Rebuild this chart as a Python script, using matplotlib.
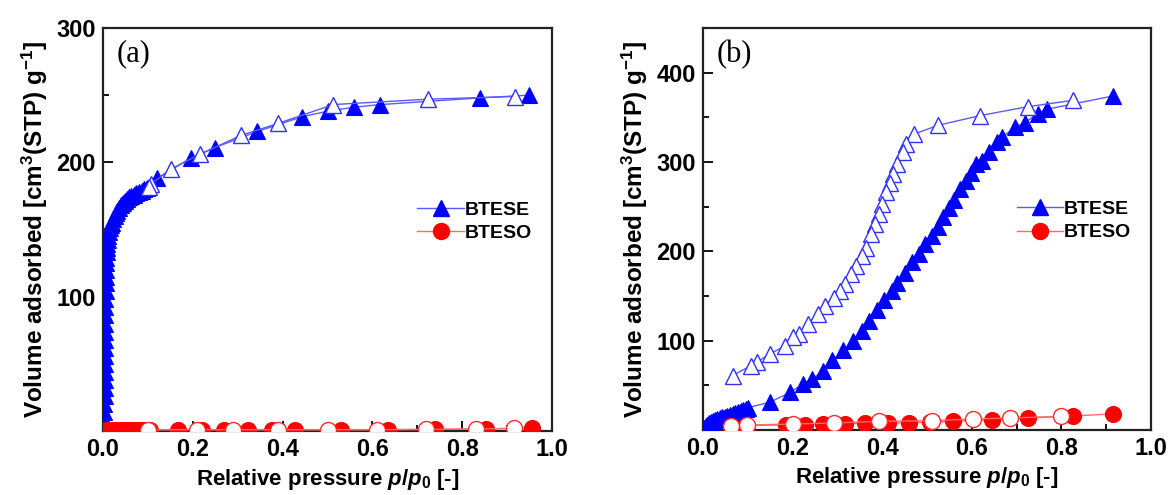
import matplotlib
matplotlib.use("Agg")
import matplotlib.pyplot as plt
from matplotlib.lines import Line2D
from matplotlib.ticker import MultipleLocator


# ============================================================
# DATA  (relative pressure p/p0, volume adsorbed cm3(STP)/g)
# ============================================================

# (a) BTESE - adsorption branch
a_btese_ads_x = [0.003, 0.003, 0.003, 0.003, 0.004, 0.004, 0.004, 0.004,
                 0.004, 0.004, 0.005, 0.005, 0.005, 0.005, 0.005, 0.005,
                 0.005, 0.006, 0.006, 0.006, 0.006, 0.007, 0.007, 0.008,
                 0.009, 0.010, 0.011, 0.012, 0.014, 0.016, 0.018, 0.020,
                 0.023, 0.026, 0.029, 0.032, 0.036, 0.040, 0.044, 0.048,
                 0.053, 0.058, 0.063, 0.068, 0.074, 0.080, 0.086, 0.092,
                 0.098, 0.12, 0.195, 0.249, 0.344, 0.444, 0.50, 0.558,
                 0.618, 0.84, 0.949]
a_btese_ads_y = [2, 8, 14, 20, 26, 32, 38, 44, 50, 56, 62, 68, 74, 80, 86,
                 92, 98, 104, 110, 115, 120, 125, 129, 133, 136, 139, 142,
                 145, 148, 151, 153, 155, 157.5, 160, 162, 164, 166, 168,
                 169.5, 171, 172.5, 174, 175, 176, 177, 178, 179, 180, 181,
                 188, 203, 211, 223, 234, 238, 241, 243, 248, 250]

# (a) BTESE - desorption branch
a_btese_des_x = [0.917, 0.724, 0.513, 0.39, 0.307, 0.216, 0.151, 0.108, 0.102]
a_btese_des_y = [249, 247, 243, 229, 220, 206, 195, 184, 182]

# (a) BTESO - adsorption branch
a_bteso_ads_x = [0.01, 0.02, 0.03, 0.04, 0.05, 0.06, 0.07, 0.08, 0.09,
                 0.105, 0.167, 0.22, 0.27, 0.324, 0.376, 0.428, 0.53,
                 0.635, 0.74, 0.852, 0.955]
a_bteso_ads_y = [1.0, 1.0, 1.0, 1.0, 1.0, 1.0, 1.0, 1.0, 1.0, 1.0, 1.0,
                 1.0, 1.0, 1.0, 1.0, 1.0, 1.0, 1.0, 1.2, 1.5, 2.0]

# (a) BTESO - desorption branch
a_bteso_des_x = [0.915, 0.83, 0.72, 0.61, 0.50, 0.39, 0.29, 0.21, 0.10]
a_bteso_des_y = [2.0, 1.5, 1.2, 1.0, 1.0, 1.0, 1.0, 1.0, 1.0]

# (b) BTESE - adsorption branch
b_btese_ads_x = [0.003, 0.006, 0.010, 0.014, 0.018, 0.022, 0.027, 0.032,
                 0.037, 0.042, 0.048, 0.054, 0.060, 0.066, 0.072, 0.078,
                 0.084, 0.090, 0.096, 0.100, 0.149, 0.194, 0.223, 0.243,
                 0.268, 0.289, 0.313, 0.334, 0.355, 0.371, 0.388, 0.404,
                 0.421, 0.433, 0.45, 0.466, 0.483, 0.495, 0.512, 0.524,
                 0.536, 0.549, 0.561, 0.573, 0.586, 0.598, 0.61, 0.623,
                 0.639, 0.656, 0.668, 0.697, 0.718, 0.747, 0.767, 0.916]
b_btese_ads_y = [2, 4, 6, 7.5, 9, 10, 11, 12, 13, 14, 15, 16, 17, 18, 19,
                 20, 21, 22, 23.5, 25, 31, 42, 51.5, 57, 66, 78, 89, 100,
                 111, 122, 134, 145, 156, 165, 176, 188, 197, 208, 217, 227,
                 238, 249, 258, 270, 279, 288, 298, 301, 311, 322, 328, 339,
                 344, 354, 359, 374]

# (b) BTESE - desorption branch
b_btese_des_x = [0.825, 0.726, 0.619, 0.524, 0.47, 0.454, 0.446, 0.433,
                 0.425, 0.417, 0.408, 0.40, 0.392, 0.384, 0.375, 0.363,
                 0.355, 0.342, 0.33, 0.318, 0.305, 0.293, 0.272, 0.256,
                 0.235, 0.215, 0.202, 0.182, 0.149, 0.12, 0.107, 0.066]
b_btese_des_y = [369, 362, 352, 341, 331, 320, 311, 298, 287, 277, 266,
                 253, 242, 231, 219, 204, 195, 184, 175, 163, 156, 148,
                 139, 130, 119, 107, 104, 94, 85, 76, 72, 61]

# (b) BTESO - adsorption branch
b_bteso_ads_x = [0.062, 0.095, 0.186, 0.227, 0.268, 0.318, 0.361, 0.413,
                 0.46, 0.507, 0.557, 0.646, 0.726, 0.825, 0.916]
b_bteso_ads_y = [5, 5, 5.6, 5.6, 6.7, 6.7, 7.5, 7.5, 8.2, 8.6, 9.7, 11.2,
                 13.4, 15.7, 18]

# (b) BTESO - desorption branch
b_bteso_des_x = [0.80, 0.686, 0.602, 0.512, 0.392, 0.293, 0.202, 0.099,
                 0.062]
b_bteso_des_y = [15.3, 13.4, 12.3, 10.4, 9.7, 7.8, 6.7, 5.6, 5]

PANEL_LABELS = ["(a)", "(b)"]
Y_LIMITS = [300, 450]
Y_TICKS = [[100, 200, 300], [100, 200, 300, 400]]


# ============================================================
# STYLE
# ============================================================

BLUE = "#0000ff"
BLUE_OPEN = "#3030ff"
BLUE_LINE = "#5a5aff"
RED = "#ff0000"
RED_OPEN = "#ff2a2a"
RED_LINE = "#ff6a6a"

MS = 11.5

plt.rcParams["font.family"] = ["Liberation Sans", "DejaVu Sans"]
plt.rcParams["font.weight"] = "bold"
plt.rcParams["mathtext.fontset"] = "custom"
plt.rcParams["mathtext.rm"] = "Liberation Sans:bold"
plt.rcParams["mathtext.bf"] = "Liberation Sans:bold"
plt.rcParams["mathtext.it"] = "Liberation Sans:bold:italic"


def draw_panel(ax, series, label, ymax, yticks):

    btese_ads, btese_des, bteso_ads, bteso_des = series

    ax.plot(btese_ads[0], btese_ads[1], color=BLUE_LINE, lw=1.0,
            marker="^", ms=MS, mfc=BLUE, mec=BLUE, mew=0.8, zorder=3)
    ax.plot(btese_des[0], btese_des[1], color=BLUE_LINE, lw=1.0,
            marker="^", ms=MS, mfc="white", mec=BLUE_OPEN, mew=1.0,
            zorder=3)
    ax.plot(bteso_ads[0], bteso_ads[1], color=RED_LINE, lw=1.0,
            marker="o", ms=MS, mfc=RED, mec=RED, mew=0.8, zorder=4)
    ax.plot(bteso_des[0], bteso_des[1], color=RED_LINE, lw=1.0,
            marker="o", ms=MS, mfc="white", mec=RED_OPEN, mew=1.0,
            zorder=4)

    ax.set_xlim(0, 1.0)
    ax.set_ylim(0, ymax)
    ax.set_xticks([0.0, 0.2, 0.4, 0.6, 0.8, 1.0])
    ax.xaxis.set_minor_locator(MultipleLocator(0.1))
    ax.set_yticks(yticks)
    ax.yaxis.set_minor_locator(MultipleLocator(50))

    ax.tick_params(which="both", direction="in", top=False, right=False,
                   width=1.3, labelsize=17, pad=5)
    ax.tick_params(which="major", length=7)
    ax.tick_params(which="minor", length=4)
    for lab in ax.get_xticklabels() + ax.get_yticklabels():
        lab.set_fontweight("bold")

    for spine in ax.spines.values():
        spine.set_linewidth(1.6)
        spine.set_color("#222222")

    ax.set_xlabel(r"Relative pressure $p/p_{\mathit{0}}$ [-]", fontsize=16,
                  fontweight="bold", labelpad=4)
    ax.set_ylabel(r"Volume adsorbed [cm$^3$(STP) g$^{-1}$]", fontsize=17.5,
                  fontweight="bold", labelpad=5)

    ax.text(0.03, 0.935, label, transform=ax.transAxes, fontsize=22,
            family="Liberation Serif", fontweight="normal",
            ha="left", va="center")

    handles = [
        Line2D([], [], color=BLUE_LINE, lw=1.0, marker="^", ms=MS,
               mfc=BLUE, mec=BLUE),
        Line2D([], [], color=RED_LINE, lw=1.0, marker="o", ms=MS,
               mfc=RED, mec=RED),
    ]
    ax.legend(handles, ["BTESE", "BTESO"], loc="center left",
              bbox_to_anchor=(0.70, 0.52), frameon=False, borderpad=0,
              borderaxespad=0, handlelength=2.4, handletextpad=0.05,
              labelspacing=0.3, prop={"size": 14, "weight": "bold"})


# ============================================================
# FIGURE
# ============================================================

fig = plt.figure(figsize=(11.68, 4.95), dpi=100)

ax_a = fig.add_axes([103 / 1168, 64 / 495, 449 / 1168, 403 / 495])
ax_b = fig.add_axes([703 / 1168, 65 / 495, 448 / 1168, 402 / 495])

draw_panel(
    ax_a,
    [(a_btese_ads_x, a_btese_ads_y), (a_btese_des_x, a_btese_des_y),
     (a_bteso_ads_x, a_bteso_ads_y), (a_bteso_des_x, a_bteso_des_y)],
    PANEL_LABELS[0], Y_LIMITS[0], Y_TICKS[0],
)
draw_panel(
    ax_b,
    [(b_btese_ads_x, b_btese_ads_y), (b_btese_des_x, b_btese_des_y),
     (b_bteso_ads_x, b_bteso_ads_y), (b_bteso_des_x, b_bteso_des_y)],
    PANEL_LABELS[1], Y_LIMITS[1], Y_TICKS[1],
)

fig.savefig("out.png", dpi=100)
